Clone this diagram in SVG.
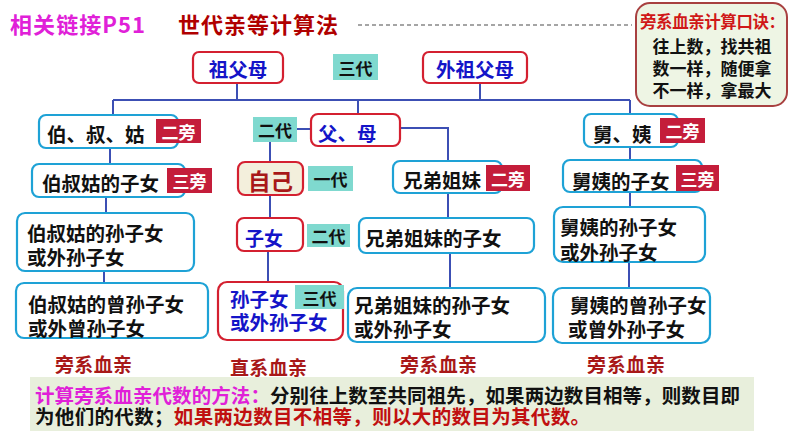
<svg xmlns="http://www.w3.org/2000/svg" width="794" height="447" viewBox="0 0 794 447">
<style>
.rb{fill:#fff;stroke:#d42030;stroke-width:2.2}
.cb{fill:#fff;stroke:#1ea2d6;stroke-width:2.2}
.tt{fill:#7fd9cf}
.rt{fill:#c41d3a}
.t{font-family:"Noto Sans CJK SC","Noto Sans CJK JP",sans-serif;font-weight:bold;dominant-baseline:central;font-size:19.5px}
.k{fill:#111}
.b{fill:#1414c8}
.w{fill:#fff;font-size:17px}
.g{fill:#111;font-size:17px}
.dr{fill:#a81818}
.c{text-anchor:middle}
.ln{stroke:#3c4fb4;stroke-width:2;fill:none}
</style>
<rect width="794" height="447" fill="#fff"/>
<g id="title">
<text class="t" x="10" y="23" font-size="22" fill="#e020d8" textLength="135" style="font-size:22px">相关链接P51</text>
<text class="t" x="178" y="23" fill="#b00000" textLength="160" style="font-size:22px">世代亲等计算法</text>
<line x1="358" y1="25" x2="632" y2="25" stroke="#888" stroke-width="1.5" stroke-dasharray="4 3"/>
</g>
<g id="mnemonic">
<rect x="636" y="3" width="151" height="103" rx="14" fill="#eef5e4" stroke="#a84040" stroke-width="2"/>
<text class="t" x="640" y="21" fill="#d01818" textLength="145" style="font-size:16.5px">旁系血亲计算口诀：</text>
<text class="t c" x="712" y="45" fill="#111" style="font-size:17px">往上数，找共祖</text>
<text class="t c" x="712" y="67" fill="#111" style="font-size:17px">数一样，随便拿</text>
<text class="t c" x="712" y="89" fill="#111" style="font-size:17px">不一样，拿最大</text>
</g>
<g id="connectors">
<path class="ln" d="M237 83V100M480 83V100M113 100H630M113 100V115M358 100V114M630 100V114"/>
<path class="ln" d="M110 148V164M106 197V213M104 271V283"/>
<path class="ln" d="M297 129H311M270 142V162M270 195V218M268 251V282"/>
<path class="ln" d="M400 128H448V161M448 193V218M450 253V288"/>
<path class="ln" d="M630 147V160M630 192V207M629 262V288"/>
</g>
<g id="zufumu">
<rect class="rb" x="193" y="52" width="90" height="31" rx="6"/>
<text class="t b c" x="238" y="68">祖父母</text>
</g>
<g id="tag-sandai-top">
<rect class="tt" x="333" y="54" width="45" height="26"/>
<text class="t g c" x="355.5" y="67">三代</text>
</g>
<g id="waizufumu">
<rect class="rb" x="423" y="52" width="104" height="31" rx="6"/>
<text class="t b c" x="475" y="68">外祖父母</text>
</g>
<g id="boshugu">
<rect class="cb" x="39" y="115" width="139" height="33" rx="7"/>
<text class="t k" x="47" y="133">伯、叔、姑</text>
<rect class="rt" x="156" y="119" width="45" height="24"/>
<text class="t w c" x="178.5" y="131">二旁</text>
</g>
<g id="boshugu-zinv">
<rect class="cb" x="32" y="164" width="153" height="33" rx="7"/>
<text class="t k" x="42" y="182">伯叔姑的子女</text>
<rect class="rt" x="167" y="168" width="45" height="25"/>
<text class="t w c" x="189.5" y="180.5">三旁</text>
</g>
<g id="boshugu-sunzinv">
<rect class="cb" x="17" y="213" width="177" height="58" rx="8"/>
<text class="t k" x="27" y="232">伯叔姑的孙子女</text>
<text class="t k" x="27" y="256">或外孙子女</text>
</g>
<g id="boshugu-zengsun">
<rect class="cb" x="16" y="283" width="192" height="55" rx="8"/>
<text class="t k" x="28" y="303">伯叔姑的曾孙子女</text>
<text class="t k" x="28" y="327">或外曾孙子女</text>
</g>
<g id="tag-erdai-1">
<rect class="tt" x="253" y="117" width="44" height="25"/>
<text class="t g c" x="275" y="129.5">二代</text>
</g>
<g id="fumu">
<rect class="rb" x="311" y="114" width="89" height="32" rx="7"/>
<text class="t b" x="318" y="132">父、母</text>
</g>
<g id="ziji">
<rect x="238" y="162" width="65" height="33" rx="7" fill="#f3efdc" stroke="#d42030" stroke-width="2.2"/>
<text class="t dr c" x="270.5" y="180" style="font-size:22.5px">自己</text>
</g>
<g id="tag-yidai">
<rect class="tt" x="308" y="166" width="45" height="25"/>
<text class="t g c" x="330.5" y="178.5">一代</text>
</g>
<g id="zinv">
<rect class="rb" x="237" y="218" width="66" height="33" rx="7"/>
<text class="t b c" x="264" y="237" style="font-size:19px">子女</text>
</g>
<g id="tag-erdai-2">
<rect class="tt" x="307" y="224" width="43" height="23"/>
<text class="t g c" x="328.5" y="235.5">二代</text>
</g>
<g id="sunzinv">
<rect class="rb" x="218" y="282" width="125" height="58" rx="9"/>
<text class="t b" x="230" y="298">孙子女</text>
<text class="t b" x="230" y="321">或外孙子女</text>
<rect class="tt" x="295" y="285" width="49" height="24"/>
<text class="t g c" x="319.5" y="297">三代</text>
</g>
<g id="xiongdi">
<rect class="cb" x="393" y="161" width="109" height="32" rx="7"/>
<text class="t k" x="403" y="179.5">兄弟姐妹</text>
<rect class="rt" x="486" y="165" width="44" height="26"/>
<text class="t w c" x="508" y="178">二旁</text>
</g>
<g id="xiongdi-zinv">
<rect class="cb" x="359" y="218" width="175" height="35" rx="7"/>
<text class="t k" x="365" y="237">兄弟姐妹的子女</text>
</g>
<g id="xiongdi-sunzinv">
<rect class="cb" x="348" y="288" width="197" height="54" rx="9"/>
<text class="t k" x="354" y="304">兄弟姐妹的孙子女</text>
<text class="t k" x="354" y="328">或外孙子女</text>
</g>
<g id="jiuyi">
<rect class="cb" x="584" y="114" width="94" height="33" rx="7"/>
<text class="t k" x="593" y="133">舅、姨</text>
<rect class="rt" x="660" y="118" width="45" height="25"/>
<text class="t w c" x="682.5" y="130.5">二旁</text>
</g>
<g id="jiuyi-zinv">
<rect class="cb" x="563" y="160" width="139" height="32" rx="7"/>
<text class="t k" x="572" y="180">舅姨的子女</text>
<rect class="rt" x="676" y="165" width="43" height="26"/>
<text class="t w c" x="697.5" y="178">三旁</text>
</g>
<g id="jiuyi-sunzinv">
<rect class="cb" x="554" y="207" width="151" height="55" rx="9"/>
<text class="t k" x="560" y="226">舅姨的孙子女</text>
<text class="t k" x="560" y="251">或外孙子女</text>
</g>
<g id="jiuyi-zengsun">
<rect class="cb" x="553" y="288" width="157" height="55" rx="9"/>
<text class="t k" x="570" y="304">舅姨的曾孙子女</text>
<text class="t k" x="568" y="328">或曾外孙子女</text>
</g>
<g id="labels">
<text class="t dr" x="55" y="363" textLength="77" style="font-size:19px">旁系血亲</text>
<text class="t dr" x="230" y="366" textLength="77" style="font-size:19px">直系血亲</text>
<text class="t dr" x="400" y="363" textLength="77" style="font-size:19px">旁系血亲</text>
<text class="t dr" x="587" y="363" textLength="78" style="font-size:19px">旁系血亲</text>
</g>
<g id="method">
<rect x="30" y="377" width="724" height="54" fill="#e8efdc"/>
<text class="t" x="35" y="393.5" textLength="705" style="font-size:19.5px"><tspan fill="#e020d8">计算旁系血亲代数的方法：</tspan><tspan fill="#111">分别往上数至共同祖先，如果两边数目相等，则数目即</tspan></text>
<text class="t" x="35" y="415" textLength="555" style="font-size:19.5px"><tspan fill="#111">为他们的代数；</tspan><tspan fill="#c01010">如果两边数目不相等，则以大的数目为其代数。</tspan></text>
</g>
</svg>
